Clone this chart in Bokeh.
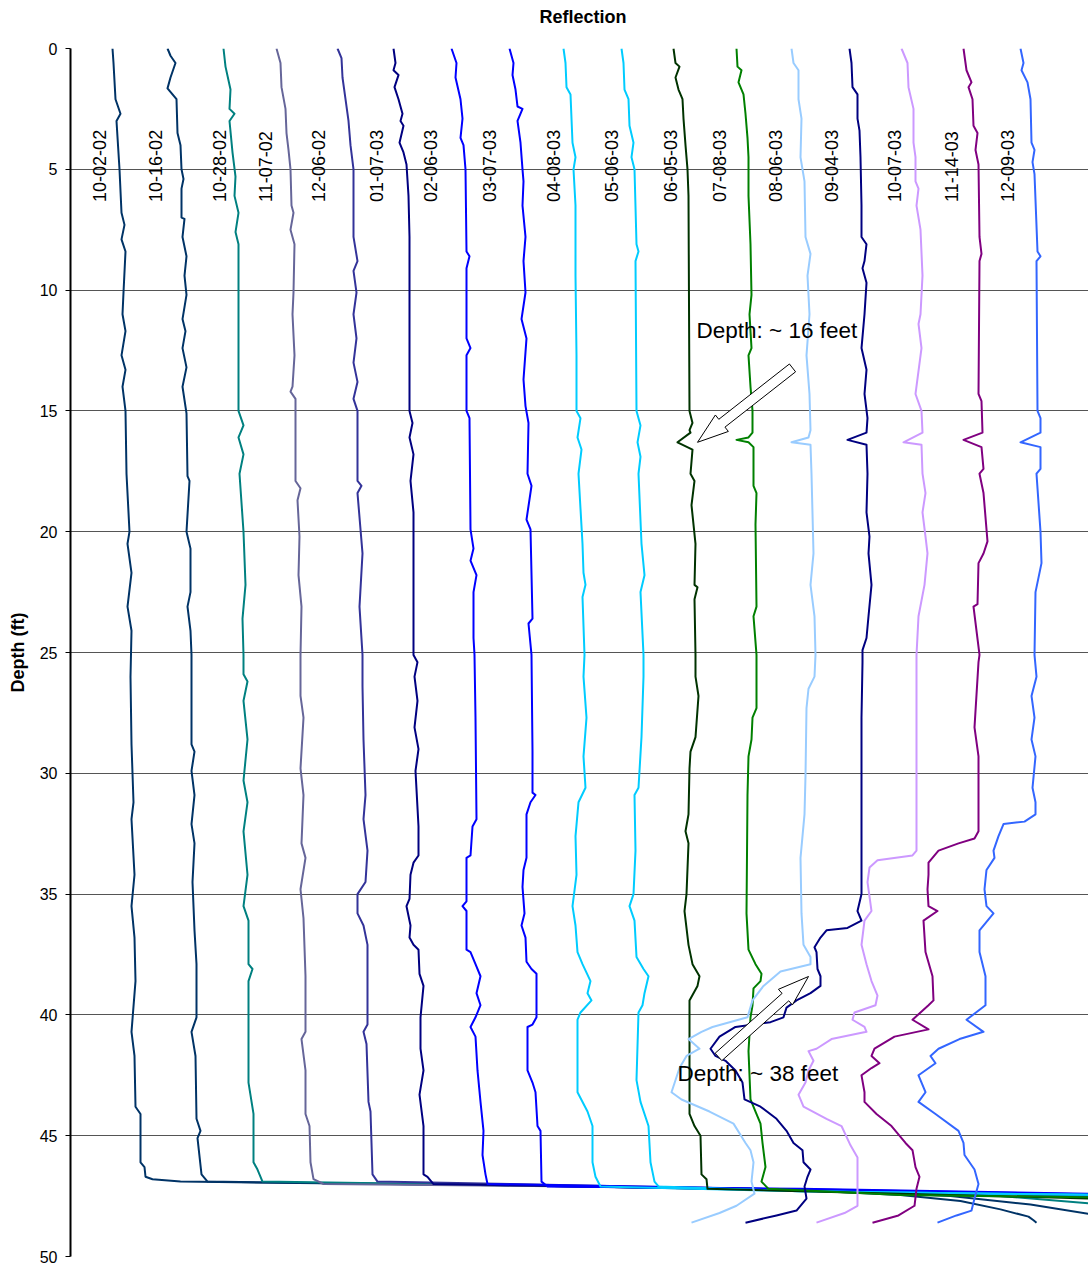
import math
from bokeh.plotting import figure
from bokeh.layouts import column
from bokeh.models import Range1d, FixedTicker, Label, Div
from bokeh.core.properties import value
from bokeh.embed import file_html
from bokeh.resources import INLINE

FONT = "Liberation Sans"

dates = ["10-02-02", "10-16-02", "10-28-02", "11-07-02", "12-06-02", "01-07-03",
         "02-06-03", "03-07-03", "04-08-03", "05-06-03", "06-05-03", "07-08-03",
         "08-06-03", "09-04-03", "10-07-03", "11-14-03", "12-09-03"]
colors = ["#003366", "#003366", "#008080", "#666699", "#333399", "#000080",
          "#0000FF", "#0000FF", "#00CCFF", "#00CCFF", "#003300", "#008000",
          "#99CCFF", "#000080", "#CC99FF", "#800080", "#3366FF"]
label_x = [99, 155, 219, 265, 318, 376, 430, 489, 553, 611, 670, 719, 775, 831, 894, 951, 1007]
label_depth = 6.35

# ---- traces: depth (ft) and reflection value ----
d_1002 = [0, 0.6, 2.1, 2.7, 3.0, 5.0, 6.8, 7.3, 7.9, 8.4, 10.1, 11.0, 11.7, 12.7, 13.3, 14.0, 15.0,
          17.6, 20.0, 20.5, 21.7, 23.1, 24.1, 26.0, 28.8, 31.2, 31.9, 34.2, 35.5, 36.8, 38.6, 40.7,
          41.7, 43.8, 44.1, 46.1, 46.3, 46.7, 46.8, 46.9, 47.05, 47.25, 47.45, 47.7, 48.05, 48.35,
          48.5, 48.6]
r_1002 = [112, 113, 115, 120, 116, 119, 121, 124, 121, 125, 123, 122, 125, 121, 125, 122, 125,
          126, 129, 127, 131, 127, 131, 130, 131, 133, 131, 134, 131, 134, 135, 131,
          134, 135, 140, 140, 144, 145, 152, 180, 500, 800, 900, 960, 1000, 1028,
          1033, 1036]

d_1016 = [0, 0.3, 0.6, 1.2, 1.65, 2.1, 3.5, 4.0, 5.0, 5.4, 5.8, 7.0, 7.05, 7.8, 8.6, 9.4, 10.2,
          11.2, 11.7, 12.4, 13.2, 14.0, 15.1, 17.7, 17.9, 20.0, 20.7, 22.5, 23.1, 24.1, 25.1, 28.8,
          29.1, 29.9, 30.9, 32.1, 32.9, 34.5, 36.5, 37.9, 40.1, 40.7, 41.7, 44.3, 44.8, 45.1, 46.6,
          46.9, 47.05, 47.3, 47.5, 47.85, 48.25, 48.7]
r_1016 = [167, 170, 175, 170, 167, 176, 177, 180, 181, 183, 181, 181, 184, 182, 186, 184, 186,
          182, 185, 182, 186, 182, 186, 187, 189, 186, 190, 190, 187, 190, 191, 191,
          194, 191, 194, 191, 194, 192, 194, 196, 196, 191, 195, 196, 200, 197, 201,
          207, 500, 850, 950, 1030, 1090, 1150]

d_1028 = [0, 0.75, 1.7, 2.5, 2.7, 3.0, 4.3, 5.3, 6.1, 6.8, 7.6, 8.1, 15.0, 15.6, 16.1, 16.8, 17.6,
          20.0, 22.2, 23.6, 25.1, 25.9, 26.2, 27.0, 28.6, 30.3, 31.2, 32.4, 34.2, 35.5, 36.1, 37.9,
          38.1, 38.6, 42.8, 44.1, 46.1, 46.4, 46.9, 47.1, 47.3, 47.5, 47.8, 48.1]
r_1028 = [223, 225, 230, 229, 234, 229, 232, 235, 234, 238, 235, 238, 238, 243, 238, 243, 239,
          243, 245, 242, 243, 243, 247, 243, 247, 243, 247, 243, 247, 243, 248, 248,
          252, 248, 248, 253, 253, 257, 262, 600, 900, 1000, 1090, 1150]

d_1107 = [0, 0.6, 1.6, 2.5, 3.5, 4.2, 5.0, 6.5, 6.8, 7.5, 8.1, 10.1, 11.0, 12.7, 14.0, 14.2, 14.5,
          17.9, 18.2, 18.7, 20.2, 21.8, 23.1, 25.1, 26.8, 27.7, 29.8, 30.9, 32.9, 33.5, 34.8, 36.0,
          38.4, 40.7, 41.0, 42.3, 44.1, 44.6, 46.1, 46.8, 47.0, 47.15, 47.5, 47.6]
r_1107 = [276, 280, 281, 285, 286, 288, 290, 291, 293, 290, 294, 293, 292, 294, 292, 290, 295,
          295, 300, 297, 299, 298, 301, 300, 300, 303, 300, 303, 301, 305, 300, 303,
          305, 305, 301, 305, 305, 309, 310, 313, 323, 700, 1090, 1200]

d_1206 = [0, 0.4, 1.2, 2.1, 3.0, 4.0, 5.0, 7.8, 8.8, 9.2, 10.1, 11.0, 12.0, 13.0, 13.8, 14.5, 15.0,
          17.9, 18.1, 18.4, 19.9, 20.9, 23.1, 25.1, 26.4, 28.6, 30.9, 31.9, 33.2, 34.5, 35.0, 35.8,
          36.3, 37.1, 40.4, 40.7, 41.2, 43.6, 44.0, 46.6, 46.9, 47.15, 47.5, 47.6]
r_1206 = [337, 341, 342, 345, 348, 350, 353, 353, 357, 353, 356, 353, 356, 353, 357, 353, 357,
          357, 361, 357, 360, 362, 359, 362, 362, 363, 365, 363, 367, 365, 357, 357,
          363, 367, 367, 363, 366, 368, 370, 372, 377, 700, 1090, 1200]

d_0107 = [0, 0.6, 0.9, 1.1, 1.6, 2.1, 2.7, 3.0, 3.2, 3.9, 4.3, 4.8, 6.1, 7.8, 15.0, 15.5, 16.1,
          16.8, 17.9, 19.2, 25.1, 25.4, 26.0, 27.0, 28.1, 29.0, 29.9, 32.2, 33.4, 33.7, 34.2, 35.2,
          35.5, 36.3, 36.8, 37.1, 37.3, 38.3, 38.8, 40.1, 41.4, 42.3, 43.3, 44.6, 46.6, 46.7, 47.0,
          47.25, 47.45, 47.55]
r_0107 = [393, 395, 393, 398, 394, 398, 402, 400, 403, 399, 403, 406, 408, 409, 409, 412, 409,
          413, 410, 413, 413, 417, 414, 417, 414, 418, 415, 418, 418, 413, 410, 409,
          406, 410, 409, 413, 418, 419, 423, 420, 420, 423, 419, 423, 423, 427, 433,
          800, 1090, 1200]

d_0206 = [0, 0.6, 1.2, 2.1, 2.9, 3.7, 4.0, 5.0, 8.4, 8.6, 9.1, 12.0, 12.4, 12.7, 15.0, 15.3, 19.9,
          20.7, 21.2, 21.8, 22.5, 24.4, 25.1, 27.7, 31.9, 32.2, 33.4, 33.5, 35.3, 35.5, 35.7, 37.3,
          37.4, 37.9, 38.4, 39.1, 39.6, 40.1, 40.5, 40.9, 42.3, 43.6, 44.8, 45.8, 46.6, 47.0,
          47.22, 47.42, 47.52]
r_0206 = [451, 456, 455, 460, 462, 460, 463, 465, 466, 469, 466, 466, 470, 466, 466, 469, 470,
          473, 470, 476, 473, 473, 474, 475, 476, 472, 470, 466, 466, 462, 466, 466,
          470, 475, 480, 476, 480, 475, 470, 475, 477, 480, 483, 482, 485, 487,
          800, 1090, 1200]

d_0307 = [0, 0.6, 1.1, 1.7, 2.4, 2.5, 3.0, 3.9, 5.0, 5.5, 6.5, 7.8, 8.8, 10.1, 11.2, 12.0, 13.7,
          14.8, 15.5, 17.6, 18.1, 19.5, 19.9, 23.6, 23.8, 25.1, 29.1, 30.8, 30.9, 31.2, 31.7, 33.5,
          34.0, 34.7, 35.8, 36.3, 36.8, 37.8, 38.1, 38.3, 40.1, 40.4, 40.5, 42.3, 42.8, 43.2, 44.6,
          44.8, 46.9, 47.1, 47.2, 47.4, 47.5]
r_0307 = [509, 513, 512, 515, 517, 522, 517, 520, 522, 523, 522, 525, 523, 525, 521, 526, 523,
          525, 528, 527, 531, 526, 530, 532, 528, 531, 532, 532, 535, 530, 526, 526,
          523, 522, 524, 521, 525, 526, 531, 536, 536, 532, 527, 527, 532, 535, 537,
          540, 541, 547, 800, 1090, 1200]

d_0408 = [0, 0.6, 1.6, 1.9, 3.9, 4.5, 5.0, 6.5, 9.4, 12.7, 15.0, 15.3, 16.1, 16.6, 17.6, 20.5,
          21.7, 22.2, 22.7, 25.1, 26.0, 27.7, 29.3, 30.6, 31.2, 32.6, 34.2, 35.5, 36.3, 37.4, 37.9,
          38.6, 39.1, 39.4, 39.9, 40.2, 43.2, 44.0, 44.6, 46.1, 46.7, 47.1, 47.3, 47.45, 47.55]
r_0408 = [563, 565, 566, 570, 572, 575, 573, 575, 575, 576, 576, 580, 577, 581, 578, 582,
          583, 585, 582, 584, 583, 586, 583, 585, 578, 575, 576, 572, 575, 577, 582,
          590, 587, 591, 580, 577, 577, 587, 592, 592, 595, 600, 800, 1090, 1200]

d_0506 = [0, 0.6, 1.7, 2.1, 3.2, 3.9, 4.5, 5.0, 8.1, 8.4, 8.8, 15.0, 15.6, 16.3, 16.9, 17.6, 20.5,
          21.8, 22.5, 25.1, 26.0, 28.5, 30.6, 30.9, 33.2, 35.0, 35.5, 36.1, 37.6, 38.1, 38.4, 39.1,
          39.6, 39.9, 42.7, 43.6, 44.6, 46.1, 46.9, 47.1, 47.3, 47.45, 47.55]
r_0506 = [621, 623, 624, 628, 629, 633, 631, 634, 636, 638, 635, 636, 640, 637, 640, 638, 641,
          644, 640, 643, 643, 641, 638, 634, 635, 633, 629, 634, 636, 643, 648, 644,
          642, 638, 636, 640, 648, 650, 654, 658, 800, 1090, 1200]

d_0605 = [0, 0.6, 0.75, 1.2, 1.7, 2.1, 2.9, 4.0, 5.0, 6.1, 15.0, 15.5, 15.8, 15.9, 16.3, 16.6,
          17.6, 17.9, 18.9, 20.5, 22.2, 22.3, 22.8, 25.1, 26.0, 26.8, 28.5, 29.1, 29.8, 31.7, 32.4,
          32.9, 35.0, 35.7, 37.1, 37.9, 38.4, 38.8, 39.4, 44.1, 44.6, 45.0, 46.6, 46.8, 47.2,
          47.4, 47.6, 47.7]
r_0605 = [673, 675, 679, 675, 678, 682, 683, 685, 687, 688, 689, 692, 689, 690, 677, 692,
          690, 694, 691, 695, 694, 697, 694, 695, 695, 698, 695, 690, 689, 688, 685,
          688, 686, 684, 688, 692, 699, 697, 689, 689, 694, 700, 701, 706, 707,
          900, 1090, 1200]

d_0708 = [0, 0.75, 0.9, 1.4, 1.9, 2.7, 3.7, 4.5, 6.1, 8.1, 10.2, 11.0, 12.4, 12.7, 14.0, 15.0,
          15.9, 16.1, 16.2, 16.3, 16.5, 18.1, 18.4, 19.7, 23.1, 23.5, 25.1, 27.3, 27.7, 28.6, 29.3,
          30.9, 35.8, 37.3, 37.9, 38.3, 38.6, 38.9, 39.6, 40.1, 41.5, 43.5, 44.0, 44.5, 45.3, 46.3,
          46.9, 47.2, 47.45, 47.55, 47.65]
r_0708 = [736, 737, 741, 738, 743, 745, 747, 748, 748, 750, 751, 749, 751, 748, 750, 752,
          752, 748, 736, 748, 753, 753, 756, 755, 756, 753, 756, 756, 752, 751, 748,
          747, 746, 748, 755, 761, 760, 753, 752, 750, 748, 750, 755, 760, 762, 765,
          761, 768, 900, 1090, 1200]

d_0806 = [0, 0.6, 0.9, 2.1, 2.9, 4.5, 5.5, 7.8, 8.5, 9.4, 11.0, 12.7, 14.3, 15.8, 16.1, 16.3, 16.4,
          17.6, 20.9, 22.2, 23.5, 25.1, 26.0, 26.5, 27.3, 30.1, 31.7, 33.5, 35.8, 37.1, 37.6, 37.9,
          38.2, 38.8, 39.4, 40.1, 40.5, 40.7, 41.0, 41.4, 41.7, 42.2, 43.2, 43.5, 44.0, 44.5, 45.3,
          45.6, 46.1, 46.9, 47.4, 47.9, 48.2, 48.6]
r_0806 = [791, 793, 798, 798, 801, 800, 804, 805, 810, 807, 809, 806, 809, 810, 808, 791, 810,
          811, 813, 810, 814, 815, 814, 808, 806, 805, 804, 800, 801, 803, 810, 810,
          780, 763, 752, 747, 712, 701, 688, 699, 686, 679, 671, 681, 709, 733, 745,
          750, 753, 751, 754, 736, 719, 691]

d_0904 = [0, 0.6, 1.6, 1.9, 2.9, 3.4, 4.5, 6.5, 7.8, 8.1, 8.8, 9.1, 9.7, 11.0, 12.4, 13.3, 14.3,
          15.3, 15.9, 16.2, 16.4, 17.6, 19.2, 20.2, 20.9, 22.2, 23.5, 24.4, 24.9, 25.4, 27.7, 32.6,
          35.0, 35.7, 36.1, 36.4, 36.5, 36.8, 37.2, 37.4, 38.1, 38.4, 38.8, 39.1, 39.4, 39.7, 40.1,
          40.3, 40.5, 40.9, 41.4, 41.7, 41.9, 42.3, 42.8, 43.5, 43.8, 44.3, 44.8, 45.3, 45.6, 46.1,
          46.4, 46.7, 47.1, 47.6, 48.1, 48.3, 48.6]
r_0904 = [849, 851, 852, 857, 857, 859, 860, 861, 861, 866, 864, 862, 866, 864, 861, 866, 864,
          867, 866, 847, 866, 867, 866, 869, 868, 871, 868, 866, 862, 862, 861, 861,
          861, 857, 861, 847, 826, 820, 814, 816, 817, 820, 820, 810, 796, 786, 783,
          770, 735, 719, 710, 715, 725, 735, 742, 744, 760, 776, 786, 793, 802, 803,
          810, 807, 804, 806, 796, 776, 745]

d_1007 = [0, 0.6, 1.6, 2.5, 3.9, 4.5, 5.5, 5.8, 6.5, 7.5, 9.4, 11.0, 11.4, 12.4, 14.3, 15.0, 15.9,
          16.3, 16.4, 17.6, 18.4, 19.2, 20.2, 20.9, 22.2, 23.5, 25.1, 26.0, 33.2, 33.4, 33.6, 33.9,
          34.5, 35.7, 36.1, 37.1, 37.9, 38.6, 39.2, 39.6, 39.9, 40.2, 40.5, 40.7, 41.0, 41.4, 41.5,
          41.9, 42.3, 42.8, 43.3, 43.8, 44.3, 44.6, 45.4, 45.9, 47.9, 48.2, 48.6]
r_1007 = [901, 907, 908, 913, 913, 915, 915, 918, 916, 920, 922, 920, 918, 921, 915, 921, 922,
          903, 921, 922, 925, 922, 925, 927, 924, 918, 916, 916, 916, 912, 877, 869,
          867, 871, 864, 861, 866, 871, 877, 875, 854, 852, 864, 866, 831, 816, 808,
          813, 808, 805, 798, 803, 826, 841, 850, 857, 857, 844, 816]

d_1114 = [0, 0.9, 1.4, 1.6, 2.1, 3.2, 3.5, 4.2, 4.8, 7.8, 8.5, 8.8, 14.3, 14.6, 15.9, 16.2, 16.5,
          17.4, 17.6, 18.4, 20.4, 20.9, 21.3, 23.0, 23.1, 25.1, 25.4, 28.1, 29.3, 32.4, 32.7, 32.9,
          33.2, 33.7, 34.2, 34.8, 35.5, 35.7, 36.1, 37.4, 38.4, 39.4, 39.6, 40.2, 40.6, 40.9, 41.4,
          41.7, 42.0, 42.2, 42.5, 43.2, 43.6, 44.1, 44.6, 45.3, 45.6, 46.3, 46.7, 47.2, 47.9, 48.3,
          48.6]
r_1114 = [963, 966, 971, 968, 972, 973, 977, 975, 978, 979, 981, 979, 978, 981, 982, 963, 981,
          983, 979, 983, 987, 983, 978, 977, 973, 979, 978, 974, 978, 978, 974, 958,
          938, 928, 928, 927, 928, 937, 923, 925, 932, 933, 928, 912, 928, 894, 874,
          871, 879, 871, 861, 864, 864, 876, 891, 905, 912, 915, 919, 916, 914, 898,
          872]

d_1209 = [0, 0.6, 0.9, 1.4, 2.1, 3.9, 4.2, 4.7, 5.2, 8.4, 8.6, 8.8, 15.0, 15.3, 15.9, 16.3, 16.5,
          17.4, 17.6, 20.0, 21.3, 22.5, 25.1, 26.0, 26.8, 27.7, 28.6, 29.3, 30.6, 31.2, 31.7, 32.0,
          32.1, 32.6, 33.2, 33.5, 34.0, 34.8, 35.5, 35.8, 36.5, 37.4, 38.4, 39.6, 40.2, 40.7, 41.0,
          41.4, 41.7, 42.0, 42.5, 43.2, 43.6, 44.1, 44.8, 45.3, 45.8, 46.4, 47.0, 47.6, 48.1, 48.3,
          48.6]
r_1209 = [1020, 1023, 1021, 1027, 1030, 1031, 1034, 1032, 1034, 1037, 1040, 1036, 1037, 1040, 1040,
          1020, 1040, 1040, 1036, 1040, 1041, 1035, 1034, 1036, 1031, 1034, 1031, 1035, 1032, 1035,
          1035, 1024, 1003, 998, 993, 994, 986, 984, 986, 993, 979, 979, 985, 985, 966, 983, 959,
          938, 930, 935, 918, 925, 918, 935, 958, 963, 964, 974, 978, 974, 971, 956, 937]

depths = [d_1002, d_1016, d_1028, d_1107, d_1206, d_0107, d_0206, d_0307, d_0408,
          d_0506, d_0605, d_0708, d_0806, d_0904, d_1007, d_1114, d_1209]
refls = [r_1002, r_1016, r_1028, r_1107, r_1206, r_0107, r_0206, r_0307, r_0408,
         r_0506, r_0605, r_0708, r_0806, r_0904, r_1007, r_1114, r_1209]

# annotation arrows: (tail reflection, tail depth) -> (tip reflection, tip depth)
arrow1 = ((792, 13.22), (697, 16.3))
arrow2 = ((718, 41.74), (808, 38.41))
note1 = (696, 11.68, "Depth: ~ 16 feet")
note2 = (677, 42.41, "Depth: ~ 38 feet")
title_text = "Reflection"

TITLE_H = 34

title_div = Div(text=title_text, width=1088, height=TITLE_H,
                styles={"font-family": FONT, "font-size": "18px", "font-weight": "bold",
                        "color": "black", "text-align": "center", "line-height": "%dpx" % TITLE_H,
                        "padding-left": "78px", "box-sizing": "border-box", "width": "1088px",
                        "margin": "0"})

p = figure(width=1088, height=1268 - TITLE_H, output_backend="svg", toolbar_location=None,
           x_range=Range1d(70, 1088), y_range=Range1d(50, 0),
           min_border_left=70, min_border_right=0, min_border_top=48 - TITLE_H,
           min_border_bottom=12)

p.xaxis.visible = False
p.xgrid.visible = False
p.yaxis.ticker = FixedTicker(ticks=list(range(0, 51, 5)))
p.yaxis.axis_label = "Depth (ft)"
p.yaxis.axis_label_text_font = FONT
p.yaxis.axis_label_text_font_size = "18px"
p.yaxis.axis_label_text_font_style = "bold"
p.yaxis.axis_label_text_color = "black"
p.yaxis.axis_label_standoff = 9
p.yaxis.major_label_text_font = FONT
p.yaxis.major_label_text_font_size = "16px"
p.yaxis.major_label_text_color = "black"
p.yaxis.axis_line_color = "black"
p.yaxis.axis_line_width = 2
p.yaxis.major_tick_line_color = "black"
p.yaxis.major_tick_in = 0
p.yaxis.major_tick_out = 5
p.yaxis.minor_tick_line_color = None
p.yaxis.major_label_standoff = 8
p.ygrid.grid_line_color = "#555555"
p.ygrid.grid_line_width = 1
p.outline_line_color = None
p.background_fill_color = "white"
p.border_fill_color = "white"

for d, r, c in zip(depths, refls, colors):
    p.line(r, d, line_color=c, line_width=2, line_join="round")

p.text(x=label_x, y=[label_depth] * len(dates), text=dates, angle=math.pi / 2,
       text_align="left", text_baseline="middle", text_font=value(FONT),
       text_font_size="18px", text_color="black")

PPF = 24.24  # pixels per foot used for arrow shape geometry


def block_arrow(tail, tip, shaft_w=10, head_w=21, head_len=31):
    sx, sy = tail[0], tail[1] * PPF
    tx, ty = tip[0], tip[1] * PPF
    L = math.hypot(tx - sx, ty - sy)
    ux, uy = (tx - sx) / L, (ty - sy) / L
    nx, ny = -uy, ux
    bx, by = tx - ux * head_len, ty - uy * head_len
    pts = [(sx + nx * shaft_w / 2, sy + ny * shaft_w / 2),
           (bx + nx * shaft_w / 2, by + ny * shaft_w / 2),
           (bx + nx * head_w / 2, by + ny * head_w / 2),
           (tx, ty),
           (bx - nx * head_w / 2, by - ny * head_w / 2),
           (bx - nx * shaft_w / 2, by - ny * shaft_w / 2),
           (sx - nx * shaft_w / 2, sy - ny * shaft_w / 2)]
    return [q[0] for q in pts], [q[1] / PPF for q in pts]


for a in (arrow1, arrow2):
    xs, ys = block_arrow(a[0], a[1])
    p.patch(xs, ys, fill_color="white", line_color="black", line_width=1)

for nx_, ny_, nt in (note1, note2):
    p.add_layout(Label(x=nx_, y=ny_, text=nt, text_align="left", text_baseline="middle",
                       text_font=FONT, text_font_size="22.5px", text_color="black"))

layout = column(title_div, p, spacing=0)
open("out.html", "w").write(file_html(layout, INLINE))
